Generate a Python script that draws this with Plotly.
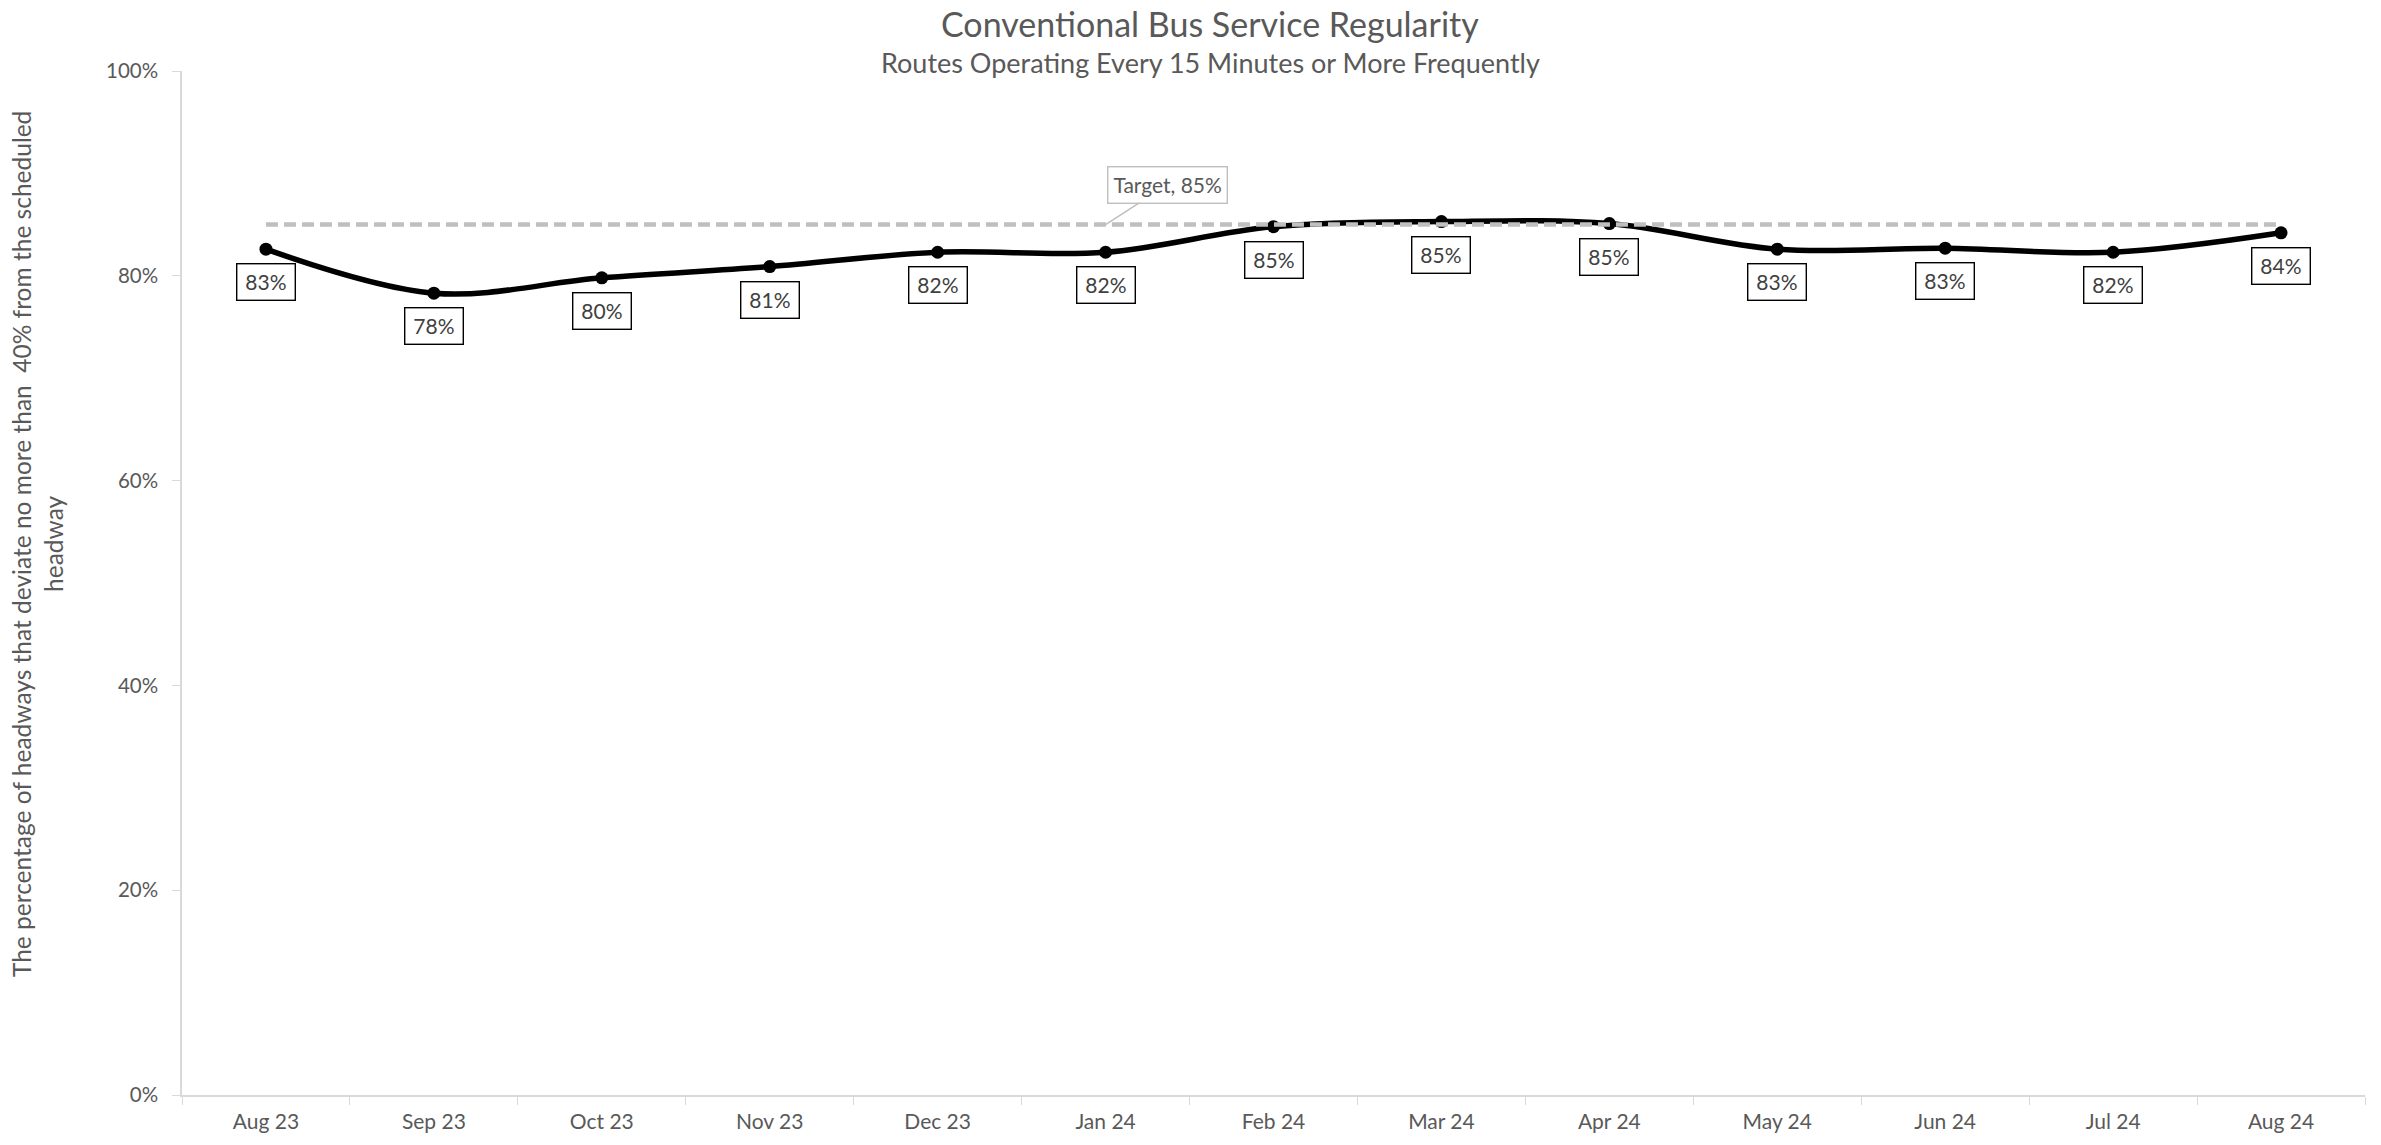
import plotly.graph_objects as go

# Monthly regularity for frequent conventional bus routes
months = ["Aug 23", "Sep 23", "Oct 23", "Nov 23", "Dec 23", "Jan 24", "Feb 24",
          "Mar 24", "Apr 24", "May 24", "Jun 24", "Jul 24", "Aug 24"]
regularity = [0.826, 0.783, 0.798, 0.809, 0.823, 0.823, 0.848,
              0.853, 0.851, 0.826, 0.827, 0.823, 0.842]
target = 0.85
target_label_month = "Jan 24"
y_ticks = [0, 0.2, 0.4, 0.6, 0.8, 1.0]

FONT = "Lato"
GREY_TEXT = "#595959"
AXIS_GREY = "#D9D9D9"

fig = go.Figure()

# Actual regularity: smoothed black line with markers
fig.add_trace(go.Scatter(
    x=months, y=regularity, mode="lines+markers",
    line=dict(color="black", width=5.5, shape="spline", smoothing=1.0),
    marker=dict(color="black", size=13),
    hoverinfo="x+y", showlegend=False,
))

# Target reference line
fig.add_trace(go.Scatter(
    x=months, y=[target] * len(months), mode="lines",
    line=dict(color="#BFBFBF", width=4.5, dash="12px,6px"),
    hoverinfo="skip", showlegend=False,
))

annotations = []
# Boxed value labels under each point
for m, v in zip(months, regularity):
    annotations.append(dict(
        x=m, y=v, xref="x", yref="y", text=f"{v:.0%}", showarrow=False,
        yshift=-33, xanchor="center", yanchor="middle",
        font=dict(family=FONT, size=21, color="#404040"),
        bgcolor="white", bordercolor="black", borderwidth=1.4,
        width=55, height=33, borderpad=1,
    ))

# Callout for the target line
annotations.append(dict(
    x=target_label_month, y=target, xref="x", yref="y",
    text=f"Target, {target:.0%}", showarrow=True, arrowhead=0,
    arrowcolor="#BFBFBF", arrowwidth=1.5, ax=62, ay=-40,
    font=dict(family=FONT, size=21, color=GREY_TEXT),
    bgcolor="white", bordercolor="#BFBFBF", borderwidth=1.4, borderpad=5,
))

# Two-line vertical axis title
annotations.append(dict(
    xref="paper", yref="paper", x=0, y=0.538, xshift=-145,
    text="The percentage of headways that deviate no more than  40% from the scheduled<br>headway",
    textangle=-90, showarrow=False, xanchor="center", yanchor="middle",
    font=dict(family=FONT, size=24.5, color=GREY_TEXT),
))

# Title and subtitle (centred on the figure, not the plot area)
annotations.append(dict(
    xref="paper", yref="paper", x=0.471, y=1, yshift=48, xanchor="center", yanchor="middle",
    text="Conventional Bus Service Regularity", showarrow=False,
    font=dict(family=FONT, size=34, color=GREY_TEXT),
))
annotations.append(dict(
    xref="paper", yref="paper", x=0.471, y=1, yshift=9, xanchor="center", yanchor="middle",
    text="Routes Operating Every 15 Minutes or More Frequently", showarrow=False,
    font=dict(family=FONT, size=27, color=GREY_TEXT),
))

fig.update_layout(
    width=2381, height=1145,
    margin=dict(l=182, r=16, t=71, b=46),
    paper_bgcolor="white", plot_bgcolor="white",
    font=dict(family=FONT, color=GREY_TEXT),
    annotations=annotations,
    xaxis=dict(
        type="category", range=[-0.5, len(months) - 0.5],
        showgrid=False, zeroline=False,
        showline=True, linecolor=AXIS_GREY, linewidth=1.5,
        ticks="outside", tickson="boundaries", ticklen=8, tickcolor=AXIS_GREY,
        tickfont=dict(family=FONT, size=21, color=GREY_TEXT),
        ticklabelstandoff=7,
    ),
    yaxis=dict(
        range=[0, 1], tickvals=y_ticks, tickformat=".0%",
        showgrid=False, zeroline=False,
        showline=True, linecolor=AXIS_GREY, linewidth=1.5,
        ticks="outside", ticklen=8, tickcolor=AXIS_GREY,
        tickfont=dict(family=FONT, size=20.5, color=GREY_TEXT),
        ticklabelstandoff=10,
    ),
)

fig.write_html("out.html")
